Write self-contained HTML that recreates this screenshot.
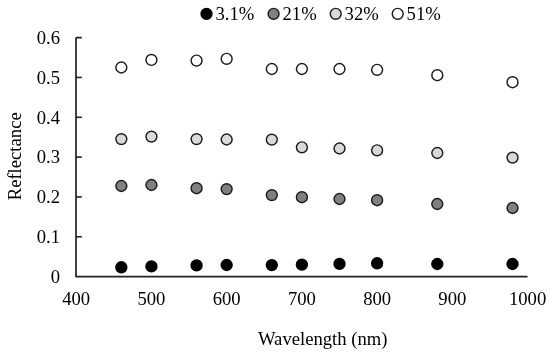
<!DOCTYPE html>
<html><head><meta charset="utf-8"><style>
html,body{margin:0;padding:0;background:#fff;width:550px;height:354px;overflow:hidden}
svg{display:block;will-change:transform}
text{font-family:"Liberation Serif",serif;font-size:18.67px;fill:#000}
</style></head><body>
<svg width="550" height="354" viewBox="0 0 550 354">
<rect width="550" height="354" fill="#fff"/>
<path d="M76.0 37.62000000000003 H81.8 M76.0 37.62000000000003 V276.6 H527.5" fill="none" stroke="#222" stroke-width="1.7" stroke-linejoin="round"/>
<path d="M76.0 236.77 H81.8" stroke="#222" stroke-width="1.6"/>
<path d="M76.0 196.94 H81.8" stroke="#222" stroke-width="1.6"/>
<path d="M76.0 157.11 H81.8" stroke="#222" stroke-width="1.6"/>
<path d="M76.0 117.28 H81.8" stroke="#222" stroke-width="1.6"/>
<path d="M76.0 77.45 H81.8" stroke="#222" stroke-width="1.6"/>
<text x="60" y="282.90" text-anchor="end">0</text>
<text x="60" y="243.07" text-anchor="end">0.1</text>
<text x="60" y="203.24" text-anchor="end">0.2</text>
<text x="60" y="163.41" text-anchor="end">0.3</text>
<text x="60" y="123.58" text-anchor="end">0.4</text>
<text x="60" y="83.75" text-anchor="end">0.5</text>
<text x="60" y="43.92" text-anchor="end">0.6</text>
<text x="76.20" y="305" text-anchor="middle">400</text>
<text x="151.43" y="305" text-anchor="middle">500</text>
<text x="226.66" y="305" text-anchor="middle">600</text>
<text x="301.89" y="305" text-anchor="middle">700</text>
<text x="377.12" y="305" text-anchor="middle">800</text>
<text x="452.35" y="305" text-anchor="middle">900</text>
<text x="527.58" y="305" text-anchor="middle">1000</text>
<text x="258" y="345.3">Wavelength (nm)</text>
<text transform="translate(21.2 156.3) rotate(-90)" text-anchor="middle">Reflectance</text>
<circle cx="121.34" cy="267.3" r="5.45" fill="#000000" stroke="#000" stroke-width="1.45"/>
<circle cx="151.43" cy="266.4" r="5.45" fill="#000000" stroke="#000" stroke-width="1.45"/>
<circle cx="196.57" cy="265.4" r="5.45" fill="#000000" stroke="#000" stroke-width="1.45"/>
<circle cx="226.66" cy="265.0" r="5.45" fill="#000000" stroke="#000" stroke-width="1.45"/>
<circle cx="271.80" cy="265.1" r="5.45" fill="#000000" stroke="#000" stroke-width="1.45"/>
<circle cx="301.89" cy="264.6" r="5.45" fill="#000000" stroke="#000" stroke-width="1.45"/>
<circle cx="339.50" cy="263.9" r="5.45" fill="#000000" stroke="#000" stroke-width="1.45"/>
<circle cx="377.12" cy="263.3" r="5.45" fill="#000000" stroke="#000" stroke-width="1.45"/>
<circle cx="437.30" cy="264.0" r="5.45" fill="#000000" stroke="#000" stroke-width="1.45"/>
<circle cx="512.53" cy="264.0" r="5.45" fill="#000000" stroke="#000" stroke-width="1.45"/>
<circle cx="121.34" cy="186.0" r="5.45" fill="#808080" stroke="#1c1c1c" stroke-width="1.45"/>
<circle cx="151.43" cy="185.0" r="5.45" fill="#808080" stroke="#1c1c1c" stroke-width="1.45"/>
<circle cx="196.57" cy="188.2" r="5.45" fill="#808080" stroke="#1c1c1c" stroke-width="1.45"/>
<circle cx="226.66" cy="189.1" r="5.45" fill="#808080" stroke="#1c1c1c" stroke-width="1.45"/>
<circle cx="271.80" cy="195.1" r="5.45" fill="#808080" stroke="#1c1c1c" stroke-width="1.45"/>
<circle cx="301.89" cy="197.2" r="5.45" fill="#808080" stroke="#1c1c1c" stroke-width="1.45"/>
<circle cx="339.50" cy="199.0" r="5.45" fill="#808080" stroke="#1c1c1c" stroke-width="1.45"/>
<circle cx="377.12" cy="200.2" r="5.45" fill="#808080" stroke="#1c1c1c" stroke-width="1.45"/>
<circle cx="437.30" cy="204.0" r="5.45" fill="#808080" stroke="#1c1c1c" stroke-width="1.45"/>
<circle cx="512.53" cy="208.0" r="5.45" fill="#808080" stroke="#1c1c1c" stroke-width="1.45"/>
<circle cx="121.34" cy="139.1" r="5.45" fill="#d9d9d9" stroke="#1c1c1c" stroke-width="1.45"/>
<circle cx="151.43" cy="136.6" r="5.45" fill="#d9d9d9" stroke="#1c1c1c" stroke-width="1.45"/>
<circle cx="196.57" cy="139.1" r="5.45" fill="#d9d9d9" stroke="#1c1c1c" stroke-width="1.45"/>
<circle cx="226.66" cy="139.5" r="5.45" fill="#d9d9d9" stroke="#1c1c1c" stroke-width="1.45"/>
<circle cx="271.80" cy="139.6" r="5.45" fill="#d9d9d9" stroke="#1c1c1c" stroke-width="1.45"/>
<circle cx="301.89" cy="147.3" r="5.45" fill="#d9d9d9" stroke="#1c1c1c" stroke-width="1.45"/>
<circle cx="339.50" cy="148.5" r="5.45" fill="#d9d9d9" stroke="#1c1c1c" stroke-width="1.45"/>
<circle cx="377.12" cy="150.3" r="5.45" fill="#d9d9d9" stroke="#1c1c1c" stroke-width="1.45"/>
<circle cx="437.30" cy="153.0" r="5.45" fill="#d9d9d9" stroke="#1c1c1c" stroke-width="1.45"/>
<circle cx="512.53" cy="157.6" r="5.45" fill="#d9d9d9" stroke="#1c1c1c" stroke-width="1.45"/>
<circle cx="121.34" cy="67.5" r="5.45" fill="#ffffff" stroke="#1c1c1c" stroke-width="1.45"/>
<circle cx="151.43" cy="59.9" r="5.45" fill="#ffffff" stroke="#1c1c1c" stroke-width="1.45"/>
<circle cx="196.57" cy="60.6" r="5.45" fill="#ffffff" stroke="#1c1c1c" stroke-width="1.45"/>
<circle cx="226.66" cy="58.8" r="5.45" fill="#ffffff" stroke="#1c1c1c" stroke-width="1.45"/>
<circle cx="271.80" cy="69.0" r="5.45" fill="#ffffff" stroke="#1c1c1c" stroke-width="1.45"/>
<circle cx="301.89" cy="69.0" r="5.45" fill="#ffffff" stroke="#1c1c1c" stroke-width="1.45"/>
<circle cx="339.50" cy="69.0" r="5.45" fill="#ffffff" stroke="#1c1c1c" stroke-width="1.45"/>
<circle cx="377.12" cy="69.8" r="5.45" fill="#ffffff" stroke="#1c1c1c" stroke-width="1.45"/>
<circle cx="437.30" cy="75.2" r="5.45" fill="#ffffff" stroke="#1c1c1c" stroke-width="1.45"/>
<circle cx="512.53" cy="82.2" r="5.45" fill="#ffffff" stroke="#1c1c1c" stroke-width="1.45"/>
<circle cx="206.5" cy="13.8" r="5.45" fill="#000000" stroke="#000" stroke-width="1.45"/>
<text x="215.4" y="19.6">3.1%</text>
<circle cx="273.6" cy="13.8" r="5.45" fill="#808080" stroke="#1c1c1c" stroke-width="1.45"/>
<text x="282.5" y="19.6">21%</text>
<circle cx="335.7" cy="13.8" r="5.45" fill="#d9d9d9" stroke="#1c1c1c" stroke-width="1.45"/>
<text x="344.6" y="19.6">32%</text>
<circle cx="397.7" cy="13.8" r="5.45" fill="#ffffff" stroke="#1c1c1c" stroke-width="1.45"/>
<text x="406.6" y="19.6">51%</text>
</svg>
</body></html>
